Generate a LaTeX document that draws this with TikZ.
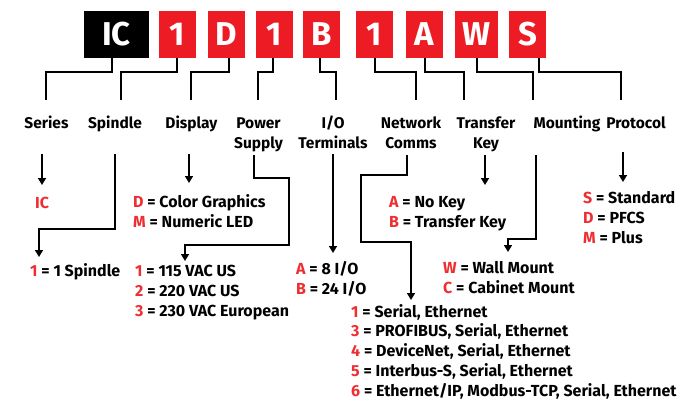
\documentclass[tikz,border=0pt]{standalone}
\usepackage{fontspec}
\setmainfont{Fira Sans}
\usetikzlibrary{arrows.meta}
\definecolor{codered}{HTML}{ED1C24}
\definecolor{optred}{HTML}{EE2E31}
\newcommand{\opt}[2]{\textcolor{optred}{#1} = #2}
\tikzset{
    codebox/.style = {fill = codered, text = white, minimum height = 47pt, minimum width = 37pt, inner sep = 0pt, font = \fontsize{33}{33}\selectfont\bfseries},
    lbl/.style = {align = center, anchor = base, inner sep = 0pt, font = \fontsize{15.5}{20}\selectfont\bfseries},
    optlist/.style = {align = left, anchor = north west, inner sep = 0pt, font = \fontsize{16}{19.8}\selectfont\bfseries},
    link/.style = {line width = 2pt},
    pointer/.style = {line width = 1.6pt, -{Triangle[length = 7pt, width = 8pt]}}
}
\begin{document}
\begin{tikzpicture}[x = 1pt, y = -1pt]
        \useasboundingbox (0, 0) rectangle (684, 401);
        \node[codebox, fill = black, minimum width = 65pt] (series) at (116.5, 34.5) {IC};
        \node[codebox] (spindle) at (177.5, 34.5) {1};
        \node[codebox] (display) at (226.5, 34.5) {D};
        \node[codebox] (power) at (274.5, 34.5) {1};
        \node[codebox] (io) at (321.5, 34.5) {B};
        \node[codebox] (network) at (374.5, 34.5) {1};
        \node[codebox] (transfer) at (424.5, 34.5) {A};
        \node[codebox, minimum width = 43pt] (mounting) at (476.5, 34.5) {W};
        \node[codebox] (protocol) at (527.5, 34.5) {S};

        \node[lbl] (serieslbl) at (46.5, 128) {Series};
        \node[lbl] (spindlelbl) at (115, 128) {Spindle};
        \node[lbl] (displaylbl) at (191.5, 128) {Display};
        \node[lbl] (powerlbl) at (258.5, 148) {Power\\Supply};
        \node[lbl] (iolbl) at (333, 148) {I/O\\Terminals};
        \node[lbl] (networklbl) at (411, 148) {Network\\Comms};
        \node[lbl] (transferlbl) at (486, 148) {Transfer\\Key};
        \node[lbl] (mountinglbl) at (567, 128) {Mounting};
        \node[lbl] (protocollbl) at (636, 128) {Protocol};

        \draw[link] ([xshift = -4.5pt]series.south) -- ++(0, 13.5) -| ([xshift = -0.5pt, yshift = 28pt]serieslbl.base);
        \draw[link] ([xshift = -0.5pt]spindle.south) -- ++(0, 13.5) -| ([xshift = 6pt, yshift = 28pt]spindlelbl.base);
        \draw[link] ([xshift = 2.5pt]display.south) -- ++(0, 13.5) -| ([xshift = -0.5pt, yshift = 28pt]displaylbl.base);
        \draw[link] ([xshift = -1.5pt]power.south) -- ++(0, 13.5) -| ([xshift = -0.5pt, yshift = 48pt]powerlbl.base);
        \draw[link] ([xshift = -1.5pt]io.south) -- ++(0, 13.5) -| ([xshift = 3pt, yshift = 48pt]iolbl.base);
        \draw[link] ([xshift = 0.5pt]network.south) -- ++(0, 13.5) -| ([xshift = 5pt, yshift = 48pt]networklbl.base);
        \draw[link] (transfer.south) -- ++(0, 13.5) -| ([xshift = -22pt, yshift = 48pt]transferlbl.base);
        \draw[link] (mounting.south) -- ++(0, 13.5) -| ([xshift = -34pt, yshift = 28pt]mountinglbl.base);
        \draw[link] ([xshift = 11.5pt]protocol.south) -- ++(0, 13.5) -| ([xshift = -15pt, yshift = 28pt]protocollbl.base);

        \node[optlist] (icopt) at (35, 194.6) {\strut\textcolor{optred}{IC}};
        \node[optlist] (spindleopt) at (30, 262.6) {\strut\opt{1}{1 Spindle}};
        \node[optlist] (displayopt) at (133, 193.6) {\strut\opt{D}{Color Graphics}\\\opt{M}{Numeric LED}};
        \node[optlist] (poweropt) at (135, 262.6) {\strut\opt{1}{115 VAC US}\\\opt{2}{220 VAC US}\\\opt{3}{230 VAC European}};
        \node[optlist] (ioopt) at (296, 260.6) {\strut\opt{A}{8 I/O}\\\opt{B}{24 I/O}};
        \node[optlist] (networkopt) at (351, 303.1) {\strut\opt{1}{Serial, Ethernet}\\\opt{3}{PROFIBUS, Serial, Ethernet}\\\opt{4}{DeviceNet, Serial, Ethernet}\\\opt{5}{Interbus-S, Serial, Ethernet}\\\opt{6}{Ethernet/IP, Modbus-TCP, Serial, Ethernet}};
        \node[optlist] (transferopt) at (389, 193.6) {\strut\opt{A}{No Key}\\\opt{B}{Transfer Key}};
        \node[optlist] (mountingopt) at (443, 259.6) {\strut\opt{W}{Wall Mount}\\\opt{C}{Cabinet Mount}};
        \node[optlist] (protocolopt) at (583, 189.6) {\strut\opt{S}{Standard}\\\opt{D}{PFCS}\\\opt{M}{Plus}};

        \draw[pointer, shorten >= 9.6pt] ([xshift = -4.5pt, yshift = -26pt]serieslbl.base) coordinate (seriesdrop) -- (seriesdrop |- icopt.north);
        \draw[pointer, shorten >= 5.6pt] ([yshift = -26pt]spindlelbl.base) -- ++(0, 75) -| ([xshift = 9pt]spindleopt.north west);
        \draw[pointer, shorten >= 10.6pt] ([xshift = -2.5pt, yshift = -26pt]displaylbl.base) coordinate (displaydrop) -- (displaydrop |- displayopt.north);
        \draw[pointer, shorten >= 1.6pt] ([xshift = -4.5pt, yshift = -7pt]powerlbl.base) -- ++(0, 23) -| ++(35, 67) -| ([xshift = 50pt]poweropt.north west);
        \draw[pointer, shorten >= 7.6pt] ([yshift = -6pt]iolbl.base) -- (iolbl.base |- ioopt.north);
        \draw[pointer, shorten >= 3.1pt] ([xshift = -4pt, yshift = -7pt]networklbl.base) -- ++(0, 20) -| ++(-46, 67) -| ([xshift = 60pt]networkopt.north west);
        \draw[pointer, shorten >= 8.6pt] ([xshift = -1pt, yshift = -7pt]transferlbl.base) coordinate (transferdrop) -- (transferdrop |- transferopt.north);
        \draw[pointer, shorten >= 7.6pt] ([xshift = -31pt, yshift = -27pt]mountinglbl.base) -- ++(0, 84) -| ([xshift = 65pt]mountingopt.north west);
        \draw[pointer, shorten >= 7.6pt] ([xshift = -13pt, yshift = -24pt]protocollbl.base) coordinate (protocoldrop) -- (protocoldrop |- protocolopt.north);
    \end{tikzpicture}
\end{document}
